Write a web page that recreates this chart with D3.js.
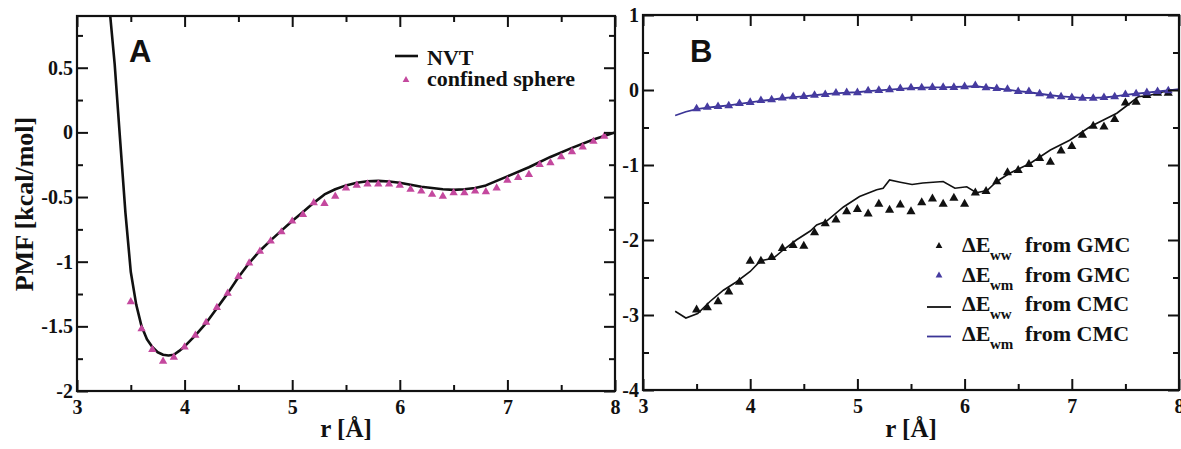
<!DOCTYPE html>
<html>
<head>
<meta charset="utf-8">
<script src="https://cdn.jsdelivr.net/npm/d3@7"></script>
<style>
  body { margin: 0; background: #fff; }
  svg { display: block; }
  text { font-family: "Liberation Serif", "Times New Roman", serif; font-weight: bold; fill: #111; }
  .panel-letter { font-family: "Liberation Sans", Arial, sans-serif; font-weight: bold; }
</style>
</head>
<body>
<svg id="chart" width="1181" height="449"></svg>
<script>
// ---- Panel A: potential of mean force ----
const nvtR   = [3.30, 3.35, 3.40, 3.45, 3.50, 3.55, 3.60, 3.65, 3.70, 3.75, 3.80, 3.85, 3.90, 3.95, 4.00,
                4.10, 4.20, 4.30, 4.40, 4.50, 4.60, 4.70, 4.80, 4.90, 5.00, 5.10, 5.20, 5.30, 5.40, 5.50,
                5.60, 5.70, 5.80, 5.90, 6.00, 6.10, 6.20, 6.30, 6.40, 6.50, 6.60, 6.70, 6.80, 6.90, 7.00,
                7.20, 7.40, 7.60, 7.80, 8.00];
const nvtPMF = [0.98, 0.53, -0.05, -0.62, -1.08, -1.33, -1.50, -1.60, -1.66, -1.70, -1.72, -1.725, -1.72, -1.69, -1.655,
                -1.57, -1.475, -1.36, -1.245, -1.12, -1.01, -0.915, -0.835, -0.76, -0.685, -0.615, -0.545, -0.48, -0.44, -0.41,
                -0.39, -0.378, -0.375, -0.38, -0.39, -0.405, -0.42, -0.43, -0.44, -0.445, -0.44, -0.43, -0.41, -0.375, -0.34,
                -0.27, -0.19, -0.12, -0.055, 0.0];

const sphereR   = [3.5, 3.6, 3.7, 3.8, 3.9, 4.0, 4.1, 4.2, 4.3, 4.4, 4.5, 4.6, 4.7, 4.8, 4.9,
                   5.0, 5.1, 5.2, 5.3, 5.4, 5.5, 5.6, 5.7, 5.8, 5.9, 6.0, 6.1, 6.2, 6.3, 6.4,
                   6.5, 6.6, 6.7, 6.8, 6.9, 7.0, 7.1, 7.2, 7.3, 7.4, 7.5, 7.6, 7.7, 7.8, 7.9];
const spherePMF = [-1.31, -1.52, -1.68, -1.77, -1.74, -1.66, -1.57, -1.47, -1.355, -1.245, -1.115, -1.01, -0.92, -0.84, -0.77,
                   -0.687, -0.635, -0.545, -0.55, -0.494, -0.43, -0.41, -0.40, -0.40, -0.40, -0.41, -0.44, -0.455, -0.48, -0.494,
                   -0.468, -0.468, -0.455, -0.46, -0.43, -0.37, -0.35, -0.327, -0.25, -0.236, -0.19, -0.15, -0.113, -0.07, -0.03];

// ---- Panel B: energy differences ----
const gmcR = [3.5, 3.6, 3.7, 3.8, 3.9, 4.0, 4.1, 4.2, 4.3, 4.4, 4.5, 4.6, 4.7, 4.8, 4.9,
              5.0, 5.1, 5.2, 5.3, 5.4, 5.5, 5.6, 5.7, 5.8, 5.9, 6.0, 6.1, 6.2, 6.3, 6.4,
              6.5, 6.6, 6.7, 6.8, 6.9, 7.0, 7.1, 7.2, 7.3, 7.4, 7.5, 7.6, 7.7, 7.8, 7.9];
const gmcEww = [-2.93, -2.90, -2.82, -2.69, -2.56, -2.28, -2.28, -2.23, -2.11, -2.07, -2.08, -1.90, -1.78, -1.73, -1.62,
                -1.59, -1.65, -1.52, -1.60, -1.53, -1.62, -1.50, -1.45, -1.52, -1.44, -1.52, -1.37, -1.35, -1.22, -1.10,
                -1.07, -0.99, -0.91, -0.96, -0.81, -0.75, -0.60, -0.48, -0.49, -0.39, -0.17, -0.16, -0.07, -0.04, -0.04];
const gmcEwm = [-0.25, -0.23, -0.22, -0.21, -0.18, -0.165, -0.14, -0.13, -0.105, -0.09, -0.085, -0.07, -0.06, -0.04, -0.035,
                -0.035, -0.01, -0.005, 0.005, 0.02, 0.03, 0.03, 0.035, 0.035, 0.035, 0.045, 0.06, 0.03, 0.02, 0.01,
                -0.02, -0.02, -0.05, -0.08, -0.09, -0.10, -0.11, -0.11, -0.10, -0.09, -0.06, -0.05, -0.035, -0.02, -0.01];

const cmcEwwR = [3.30, 3.40, 3.51, 3.625, 3.75, 3.87, 4.00, 4.075, 4.12, 4.215, 4.31, 4.43, 4.56, 4.62, 4.71,
                 4.87, 5.02, 5.18, 5.24, 5.30, 5.40, 5.51, 5.61, 5.80, 5.91, 6.02, 6.11, 6.21, 6.30, 6.42,
                 6.61, 6.80, 6.98, 7.17, 7.42, 7.54, 7.62, 7.73, 7.92, 8.00];
const cmcEww  = [-2.95, -3.04, -2.98, -2.82, -2.67, -2.56, -2.42, -2.31, -2.27, -2.245, -2.13, -2.00, -1.88, -1.80, -1.75,
                 -1.56, -1.42, -1.33, -1.31, -1.20, -1.23, -1.26, -1.24, -1.22, -1.31, -1.29, -1.37, -1.34, -1.22, -1.11,
                 -0.98, -0.80, -0.67, -0.49, -0.31, -0.18, -0.09, -0.07, 0.00, 0.00];

const cmcEwmR = [3.3, 3.4, 3.5, 3.6, 3.7, 3.8, 3.9, 4.0, 4.1, 4.2, 4.3, 4.4, 4.5, 4.6, 4.7, 4.8,
                 4.9, 5.0, 5.1, 5.2, 5.3, 5.4, 5.5, 5.6, 5.7, 5.8, 5.9, 6.0, 6.1, 6.2, 6.3, 6.4,
                 6.5, 6.6, 6.7, 6.8, 6.9, 7.0, 7.1, 7.2, 7.3, 7.4, 7.5, 7.6, 7.7, 7.8, 7.9, 8.0];
const cmcEwm  = [-0.34, -0.29, -0.255, -0.235, -0.22, -0.205, -0.185, -0.165, -0.145, -0.13, -0.11, -0.095, -0.085, -0.07, -0.055, -0.045,
                 -0.035, -0.03, -0.015, -0.005, 0.005, 0.015, 0.025, 0.03, 0.035, 0.035, 0.04, 0.045, 0.05, 0.035, 0.02, 0.005,
                 -0.015, -0.03, -0.05, -0.07, -0.085, -0.095, -0.105, -0.105, -0.10, -0.085, -0.065, -0.05, -0.035, -0.02, -0.005, 0.01];

// ---- Tick values ----
const xTicks      = [3, 4, 5, 6, 7, 8];
const xMinorTicks = [3.5, 4.5, 5.5, 6.5, 7.5];
const yTicksA      = [-2, -1.5, -1, -0.5, 0, 0.5];
const yMinorTicksA = [-1.75, -1.25, -0.75, -0.25, 0.25, 0.75];
const yTicksB      = [-4, -3, -2, -1, 0, 1];
const yMinorTicksB = [-3.5, -2.5, -1.5, -0.5, 0.5];

const svg = d3.select("#chart");
const pink = "#c4489e";
const slate = "#463ba0";
const navy = "#3b3596";

function zip(xs, ys) { return xs.map((x, i) => [x, ys[i]]); }

// Frame with inward ticks on all four sides, labels on bottom and left
function drawFrame(id, x, y, yMajor, yMinor) {
  const [x0, x1] = x.range();
  const [y0, y1] = y.range(); // y0 bottom, y1 top
  const g = svg.append("g").attr("class", "frame-" + id);
  const major = 11, minor = 6;
  const fmt = d => String(d);

  const bottom = g.append("g").attr("transform", `translate(0,${y0})`)
    .call(d3.axisBottom(x).tickValues(xTicks).tickSize(-major).tickPadding(9).tickFormat(fmt));
  g.append("g").attr("transform", `translate(0,${y0})`)
    .call(d3.axisBottom(x).tickValues(xMinorTicks).tickSize(-minor).tickFormat(""));
  g.append("g").attr("transform", `translate(0,${y1})`)
    .call(d3.axisTop(x).tickValues(xTicks).tickSize(-major).tickFormat(""));
  g.append("g").attr("transform", `translate(0,${y1})`)
    .call(d3.axisTop(x).tickValues(xMinorTicks).tickSize(-minor).tickFormat(""));

  const left = g.append("g").attr("transform", `translate(${x0},0)`)
    .call(d3.axisLeft(y).tickValues(yMajor).tickSize(-major).tickPadding(4).tickFormat(fmt));
  g.append("g").attr("transform", `translate(${x0},0)`)
    .call(d3.axisLeft(y).tickValues(yMinor).tickSize(-minor).tickFormat(""));
  g.append("g").attr("transform", `translate(${x1},0)`)
    .call(d3.axisRight(y).tickValues(yMajor).tickSize(-major).tickFormat(""));
  g.append("g").attr("transform", `translate(${x1},0)`)
    .call(d3.axisRight(y).tickValues(yMinor).tickSize(-minor).tickFormat(""));

  g.selectAll(".domain").remove();
  g.selectAll(".tick line").attr("stroke", "#111").attr("stroke-width", 2);
  g.selectAll(".tick text").attr("fill", "#111")
    .style("font-family", '"Liberation Serif", "Times New Roman", serif')
    .style("font-weight", "bold").style("font-size", "20px");

  g.append("rect").attr("x", x0).attr("y", y1)
    .attr("width", x1 - x0).attr("height", y0 - y1)
    .attr("fill", "none").attr("stroke", "#111").attr("stroke-width", 2.2);

  // axis title
  g.append("text").attr("x", (x0 + x1) / 2).attr("y", 437)
    .attr("text-anchor", "middle").style("font-size", "25px").text("r [Å]");
  return g;
}

function addClip(id, x, y) {
  const [x0, x1] = x.range();
  const [y0, y1] = y.range();
  svg.append("clipPath").attr("id", id).append("rect")
    .attr("x", x0).attr("y", y1).attr("width", x1 - x0).attr("height", y0 - y1);
}

// ================= Panel A =================
const xA = d3.scaleLinear().domain([3, 8]).range([77, 615]);
const yA = d3.scaleLinear().domain([-2, 0.9]).range([391, 16]);
addClip("clipA", xA, yA);

const lineA = d3.line().x(d => xA(d[0])).y(d => yA(d[1]));
svg.append("path").datum(zip(nvtR, nvtPMF))
  .attr("clip-path", "url(#clipA)")
  .attr("d", lineA).attr("fill", "none").attr("stroke", "#111").attr("stroke-width", 2.6)
  .attr("stroke-linejoin", "round");

const triSmall = d3.symbol(d3.symbolTriangle);
svg.append("g").selectAll("path").data(zip(sphereR, spherePMF)).join("path")
  .attr("transform", d => `translate(${xA(d[0])},${yA(d[1])})`)
  .attr("d", triSmall.size(30)()).attr("fill", pink);

drawFrame("A", xA, yA, yTicksA, yMinorTicksA);

svg.append("text").attr("transform", "translate(33,204) rotate(-90)")
  .attr("text-anchor", "middle").style("font-size", "26px").text("PMF [kcal/mol]");

svg.append("text").attr("class", "panel-letter").attr("x", 129).attr("y", 62)
  .style("font-size", "31px").text("A");

// Legend A
const legA = svg.append("g");
legA.append("line").attr("x1", 395).attr("x2", 418).attr("y1", 56).attr("y2", 56)
  .attr("stroke", "#111").attr("stroke-width", 2.6);
legA.append("text").attr("x", 427).attr("y", 65).style("font-size", "22px").text("NVT");
legA.append("path").attr("transform", "translate(406,80)")
  .attr("d", d3.symbol(d3.symbolTriangle).size(20)()).attr("fill", pink);
legA.append("text").attr("x", 427).attr("y", 86).style("font-size", "22px").text("confined sphere");

// ================= Panel B =================
const xB = d3.scaleLinear().domain([3, 8]).range([643, 1179]);
const yB = d3.scaleLinear().domain([-4, 1]).range([390, 15]);
addClip("clipB", xB, yB);

const lineB = d3.line().x(d => xB(d[0])).y(d => yB(d[1]));
svg.append("path").datum(zip(cmcEwwR, cmcEww)).attr("clip-path", "url(#clipB)")
  .attr("d", lineB).attr("fill", "none").attr("stroke", "#111").attr("stroke-width", 1.6);
svg.append("path").datum(zip(cmcEwmR, cmcEwm)).attr("clip-path", "url(#clipB)")
  .attr("d", lineB).attr("fill", "none").attr("stroke", navy).attr("stroke-width", 1.8);

svg.append("g").selectAll("path").data(zip(gmcR, gmcEww)).join("path")
  .attr("transform", d => `translate(${xB(d[0])},${yB(d[1])})`)
  .attr("d", d3.symbol(d3.symbolTriangle).size(36)()).attr("fill", "#111");
svg.append("g").selectAll("path").data(zip(gmcR, gmcEwm)).join("path")
  .attr("transform", d => `translate(${xB(d[0])},${yB(d[1])})`)
  .attr("d", d3.symbol(d3.symbolTriangle).size(34)()).attr("fill", slate);

drawFrame("B", xB, yB, yTicksB, yMinorTicksB);

svg.append("text").attr("class", "panel-letter").attr("x", 690).attr("y", 62)
  .style("font-size", "31px").text("B");

// Legend B
const legendB = [
  { sym: "tri",  color: "#111", sub: "ww", src: "GMC" },
  { sym: "tri",  color: slate,  sub: "wm", src: "GMC" },
  { sym: "line", color: "#111", sub: "ww", src: "CMC" },
  { sym: "line", color: navy,   sub: "wm", src: "CMC" }
];
const legB = svg.append("g");
legendB.forEach((e, i) => {
  const base = 252 + i * 29.5;
  if (e.sym === "tri") {
    legB.append("path").attr("transform", `translate(939,${base - 6})`)
      .attr("d", d3.symbol(d3.symbolTriangle).size(20)()).attr("fill", e.color);
  } else {
    legB.append("line").attr("x1", 927).attr("x2", 951)
      .attr("y1", base - 4).attr("y2", base - 4)
      .attr("stroke", e.color).attr("stroke-width", 1.8);
  }
  legB.append("text").attr("x", 962).attr("y", base).style("font-size", "22px").text("ΔE");
  legB.append("text").attr("x", 990).attr("y", base + 8).style("font-size", "15px").text(e.sub);
  legB.append("text").attr("x", 1025).attr("y", base).style("font-size", "22px").text("from " + e.src);
});
</script>
</body>
</html>
